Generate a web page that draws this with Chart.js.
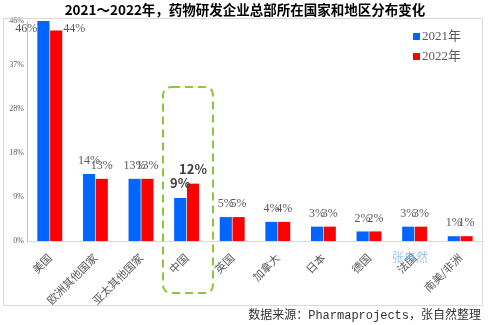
<!DOCTYPE html>
<html lang="zh">
<head>
    <meta charset="UTF-8">
    <title>药物研发企业总部分布变化</title>
    <script src="https://cdn.jsdelivr.net/npm/chart.js"></script>
    <style>
        body {
            margin: 0;
            padding: 0;
            background: #ffffff;
        }
        .wrap {
            position: relative;
            width: 489px;
            height: 325px;
        }
    </style>
</head>
<body>
    <div class="wrap">
        <canvas id="hqChart" width="489" height="325"></canvas>
    </div>

    <script>
        const categories = ['美国', '欧洲其他国家', '亚太其他国家', '中国', '英国', '加拿大', '日本', '德国', '法国', '南美/非洲'];
        const values2021 = [46, 14, 13, 9, 5, 4, 3, 2, 3, 1];
        const values2022 = [44, 13, 13, 12, 5, 4, 3, 2, 3, 1];
        const seriesNames = ['2021年', '2022年'];

        const blue = '#0066ff';
        const red = '#ff0000';
        const gray = '#595959';
        const serif = '"Liberation Serif", "Noto Sans CJK SC", serif';
        const cjk = '"Noto Sans CJK SC", sans-serif';

        // labels above bars, title, legend, frame and the china box
        const decorPlugin = {
            id: 'decor',
            afterDatasetsDraw(chart) {
                const ctx = chart.ctx;
                ctx.save();
                chart.data.datasets.forEach((ds, di) => {
                    const meta = chart.getDatasetMeta(di);
                    meta.data.forEach((bar, i) => {
                        const txt = ds.data[i] + '%';
                        ctx.textBaseline = 'middle';
                        if (i === 0) {
                            ctx.font = '12px ' + serif;
                            ctx.fillStyle = gray;
                            if (di === 0) {
                                ctx.textAlign = 'right';
                                ctx.fillText(txt, bar.x - bar.width / 2, 29);
                            } else {
                                ctx.textAlign = 'left';
                                ctx.fillText(txt, bar.x + bar.width / 2 + 1, 29);
                            }
                            return;
                        }
                        ctx.textAlign = 'center';
                        if (categories[i] === '中国') {
                            ctx.font = 'bold 13px ' + cjk;
                            ctx.fillStyle = '#404040';
                            ctx.fillText(txt, bar.x, bar.y - 15);
                        } else {
                            ctx.font = '12px ' + serif;
                            ctx.fillStyle = gray;
                            ctx.fillText(txt, bar.x, bar.y - 13);
                        }
                    });
                });
                ctx.restore();
            },
            afterDraw(chart) {
                const ctx = chart.ctx;
                ctx.save();

                // frame
                ctx.strokeStyle = '#d9d9d9';
                ctx.lineWidth = 1;
                ctx.strokeRect(3.5, 18.5, 479, 287);

                // title
                ctx.font = 'bold 13.5px ' + cjk;
                ctx.fillStyle = '#000000';
                ctx.textAlign = 'center';
                ctx.textBaseline = 'middle';
                ctx.fillText('2021～2022年，药物研发企业总部所在国家和地区分布变化', 245, 10);

                // legend
                const colors = [blue, red];
                seriesNames.forEach((name, k) => {
                    const y = 36 + k * 20;
                    ctx.fillStyle = colors[k];
                    ctx.fillRect(413, y - 3, 7, 7);
                    ctx.font = '13px ' + serif;
                    ctx.fillStyle = gray;
                    ctx.textAlign = 'left';
                    ctx.fillText(name, 422, y + 1);
                });

                // dashed rounded box around china
                const x0 = 163, y0 = 87, x1 = 213, y1 = 293, r = 9;
                ctx.strokeStyle = '#8cc63f';
                ctx.lineWidth = 2;
                ctx.setLineDash([8, 5]);
                ctx.beginPath();
                ctx.moveTo(x0 + r, y0);
                ctx.lineTo(x1 - r, y0);
                ctx.quadraticCurveTo(x1, y0, x1, y0 + r);
                ctx.lineTo(x1, y1 - r);
                ctx.quadraticCurveTo(x1, y1, x1 - r, y1);
                ctx.lineTo(x0 + r, y1);
                ctx.quadraticCurveTo(x0, y1, x0, y1 - r);
                ctx.lineTo(x0, y0 + r);
                ctx.quadraticCurveTo(x0, y0, x0 + r, y0);
                ctx.stroke();
                ctx.setLineDash([]);

                // watermark
                ctx.font = '12px ' + cjk;
                ctx.fillStyle = 'rgba(120, 175, 225, 0.75)';
                ctx.textAlign = 'center';
                ctx.fillText('张自然', 410, 257);

                // source
                ctx.font = '12px "Liberation Mono", "Noto Sans CJK SC", monospace';
                ctx.fillStyle = '#333333';
                ctx.textAlign = 'right';
                ctx.fillText('数据来源：Pharmaprojects，张自然整理', 481, 316);

                ctx.restore();
            }
        };

        new Chart(document.getElementById('hqChart').getContext('2d'), {
            type: 'bar',
            data: {
                labels: categories,
                datasets: [
                    {
                        label: seriesNames[0],
                        data: values2021,
                        backgroundColor: blue,
                        categoryPercentage: 0.56,
                        barPercentage: 0.95
                    },
                    {
                        label: seriesNames[1],
                        data: values2022,
                        backgroundColor: red,
                        categoryPercentage: 0.56,
                        barPercentage: 0.95
                    }
                ]
            },
            options: {
                responsive: false,
                animation: false,
                layout: { padding: { top: 21, left: 0, right: 6, bottom: 0 } },
                plugins: {
                    legend: { display: false },
                    title: { display: false },
                    tooltip: { enabled: false }
                },
                scales: {
                    x: {
                        grid: { display: false, drawTicks: false },
                        border: { color: '#d9d9d9' },
                        ticks: {
                            color: gray,
                            font: { family: cjk, size: 11 },
                            maxRotation: 45,
                            minRotation: 45,
                            autoSkip: false,
                            padding: 10
                        },
                        afterFit(scale) { scale.height = 84; }
                    },
                    y: {
                        min: 0,
                        max: 46,
                        grid: { display: false, drawTicks: false },
                        border: { color: '#bfbfbf' },
                        ticks: {
                            stepSize: 9.2,
                            color: gray,
                            font: { family: serif, size: 8 },
                            padding: 3,
                            callback: v => Math.round(v) + '%'
                        },
                        afterFit(scale) { scale.width = 27; }
                    }
                }
            },
            plugins: [decorPlugin]
        });
    </script>
</body>
</html>
